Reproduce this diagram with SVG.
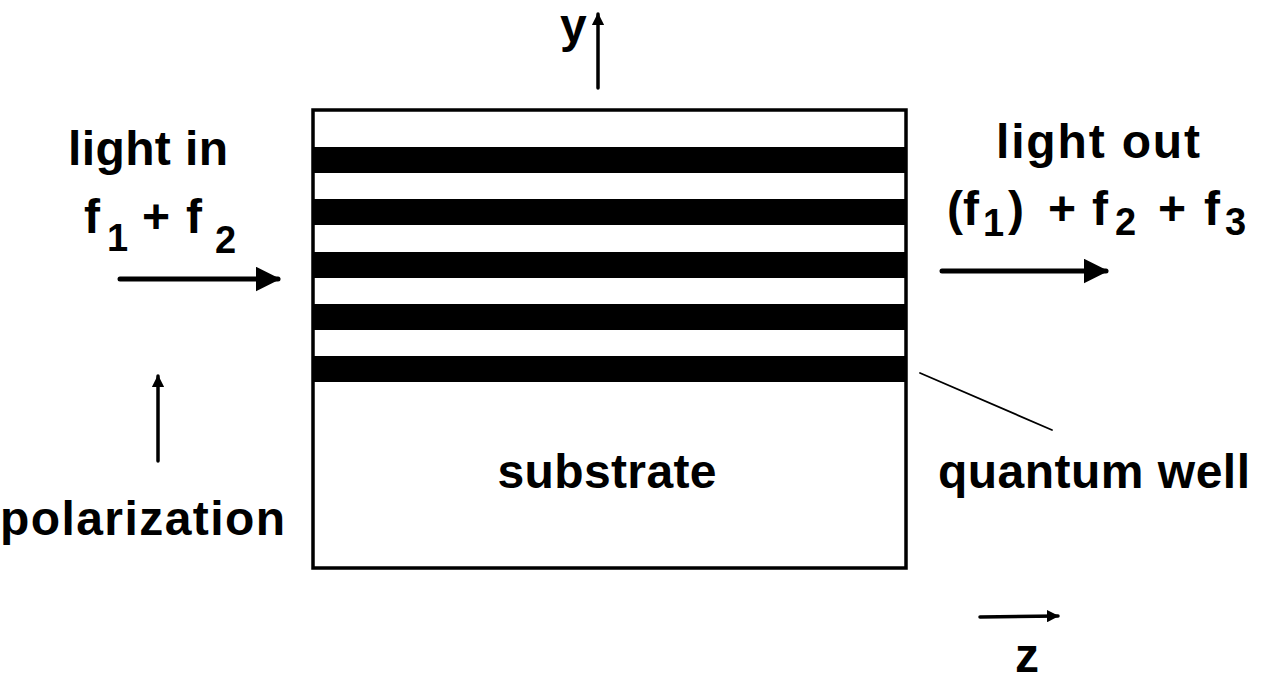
<svg xmlns="http://www.w3.org/2000/svg" width="1263" height="680" viewBox="0 0 1263 680">
<style>
text{font-family:"Liberation Sans",Arial,sans-serif;font-weight:bold;fill:#000}
.t{font-size:48px}
.s{font-size:38px}
.ln{stroke:#000;fill:none;stroke-linecap:round}
</style>
<defs>
<marker id="big" viewBox="0 0 10 10" refX="9" refY="5" markerWidth="5" markerHeight="5" markerUnits="strokeWidth" orient="auto"><path d="M0,0 L10,5 L0,10 z" fill="#000"/></marker>
<marker id="sm" viewBox="0 0 10 10" refX="9" refY="5" markerWidth="3.5" markerHeight="3.5" markerUnits="strokeWidth" orient="auto"><path d="M0,0 L10,5 L0,10 z" fill="#000"/></marker>
</defs>
<rect width="1263" height="680" fill="#fff"/>
<g id="device">
<rect x="313" y="110" width="593" height="458" fill="#fff" stroke="#000" stroke-width="3.5"/>
<rect x="313" y="147" width="593" height="26" fill="#000"/>
<rect x="313" y="199" width="593" height="26" fill="#000"/>
<rect x="313" y="252" width="593" height="26" fill="#000"/>
<rect x="313" y="304" width="593" height="26" fill="#000"/>
<rect x="313" y="356" width="593" height="26" fill="#000"/>
<text class="t" x="607" y="488" text-anchor="middle" textLength="219">substrate</text>
</g>
<g id="light-in">
<text class="t" x="68" y="165" textLength="160">light in</text>
<text class="t" x="84" y="233">f</text>
<text class="s" x="107" y="251">1</text>
<text class="t" x="142" y="233">+</text>
<text class="t" x="186" y="233">f</text>
<text class="s" x="215" y="253">2</text>
</g>
<g id="light-out">
<text class="t" x="996" y="158" textLength="204">light out</text>
<text class="t" x="947" y="225">(f</text>
<text class="s" x="983" y="236">1</text>
<text class="t" x="1008" y="225">)</text>
<text class="t" x="1048" y="225">+</text>
<text class="t" x="1092" y="225">f</text>
<text class="s" x="1115" y="235">2</text>
<text class="t" x="1158" y="225">+</text>
<text class="t" x="1204" y="225">f</text>
<text class="s" x="1225" y="235">3</text>
</g>
<g id="polarization">
<text class="t" x="0" y="535" textLength="285">polarization</text>
</g>
<g id="quantum-well">
<text class="t" x="938" y="488" textLength="312">quantum well</text>
</g>
<g id="axis-y">
<text class="t" x="560" y="42">y</text>
</g>
<g id="axis-z">
<text class="t" x="1015" y="672">z</text>
</g>
<g id="connectors">
<line class="ln" x1="120" y1="279" x2="278" y2="279" stroke-width="5" marker-end="url(#big)"/>
<line class="ln" x1="942" y1="271" x2="1106" y2="271" stroke-width="5" marker-end="url(#big)"/>
<line class="ln" x1="158" y1="461" x2="158" y2="376" stroke-width="3.5" marker-end="url(#sm)"/>
<line class="ln" x1="598" y1="88" x2="598" y2="14" stroke-width="3.5" marker-end="url(#sm)"/>
<line class="ln" x1="980" y1="617" x2="1058" y2="616" stroke-width="3.5" marker-end="url(#sm)"/>
<line class="ln" x1="920" y1="373" x2="1052" y2="430" stroke-width="1.8"/>
</g>
</svg>
